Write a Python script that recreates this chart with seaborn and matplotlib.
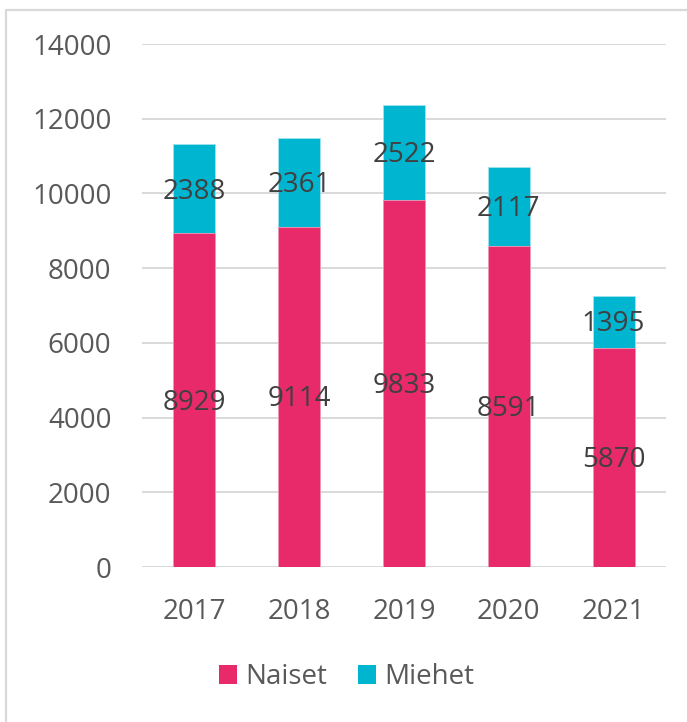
import numpy as np
import pandas as pd
import matplotlib
matplotlib.use("Agg")
import matplotlib.pyplot as plt
from matplotlib.patches import Patch
from matplotlib.lines import Line2D
import seaborn as sns

# data
years = ["2017", "2018", "2019", "2020", "2021"]
naiset = [8929, 9114, 9833, 8591, 5870]
miehet = [2388, 2361, 2522, 2117, 1395]

pink = "#E8296A"
cyan = "#00B5D0"
grid_col = "#D9D9D9"

sns.set_theme(style="white")
plt.rcParams["font.family"] = ["Open Sans", "DejaVu Sans"]

df = pd.DataFrame({"year": years, "Naiset": naiset, "Miehet": miehet})
df["total"] = df["Naiset"] + df["Miehet"]

fig = plt.figure(figsize=(6.87, 7.22), dpi=100)
ax = fig.add_axes([142 / 687, 1 - 567 / 722, 524 / 687, (567 - 44) / 722])

# stacked: draw totals then the lower segment over them
sns.barplot(data=df, x="year", y="total", color=cyan, width=0.4, ax=ax,
            saturation=1, edgecolor="#9fe3ee", linewidth=0.6, zorder=3)
sns.barplot(data=df, x="year", y="Naiset", color=pink, width=0.4, ax=ax,
            saturation=1, edgecolor="#f39bbb", linewidth=0.6, zorder=3)

# value labels, digits centred on each segment
for i, (n, m) in enumerate(zip(naiset, miehet)):
    ax.annotate(str(n), (i, n / 2), xytext=(0, -7), textcoords="offset points",
                ha="center", va="baseline", fontsize=20, color="#404040", zorder=5)
    ax.annotate(str(m), (i, n + m / 2), xytext=(0, -7), textcoords="offset points",
                ha="center", va="baseline", fontsize=20, color="#404040", zorder=5)

ax.set_ylim(0, 14000)
ax.set_xlim(-0.5, 4.5)
ax.set_yticks(np.arange(0, 14001, 2000))
ax.yaxis.grid(True, color=grid_col, linewidth=1.4, zorder=0)
ax.set_axisbelow(True)
for s in ax.spines.values():
    s.set_visible(False)
ax.set_xlabel("")
ax.set_ylabel("")
ax.tick_params(axis="both", length=0, labelsize=20, labelcolor="#595959")
ax.tick_params(axis="y", pad=22)
ax.tick_params(axis="x", pad=22)

handles = [Patch(facecolor=pink, edgecolor="none", label="Naiset"),
           Patch(facecolor=cyan, edgecolor="none", label="Miehet")]
leg = fig.legend(handles=handles, loc="center", bbox_to_anchor=(0.505, 1 - 677 / 722),
                 ncol=2, frameon=False, fontsize=20, handlelength=0.65,
                 handleheight=0.65, handletextpad=0.3, columnspacing=1.1)
for t in leg.get_texts():
    t.set_color("#595959")

# outer chart frame (left and top edges visible)
fig.add_artist(Line2D([5.5 / 687, 5.5 / 687], [0, 1 - 10 / 722], transform=fig.transFigure,
                      color=grid_col, linewidth=1.6))
fig.add_artist(Line2D([5.5 / 687, 1], [1 - 10 / 722, 1 - 10 / 722], transform=fig.transFigure,
                      color=grid_col, linewidth=1.6))

fig.savefig("out.png", dpi=100)
